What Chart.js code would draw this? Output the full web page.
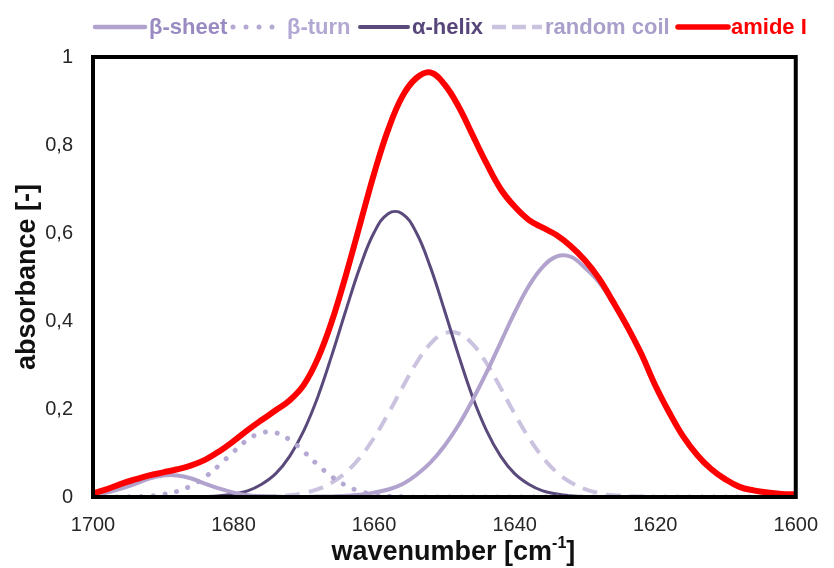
<!DOCTYPE html>
<html>
<head>
<meta charset="utf-8">
<script src="https://cdn.jsdelivr.net/npm/chart.js@4.4.1/dist/chart.umd.min.js"></script>
<style>
  html, body { margin: 0; padding: 0; background: #ffffff; }
  #wrap { width: 834px; height: 568px; }
</style>
</head>
<body>
<div id="wrap"><canvas id="c" width="834" height="568"></canvas></div>
<script>
// Wavenumber grid [cm-1]
const wavenumbers = [1700,1698,1696,1694,1692,1690,1688,1686,1684,1682,1680,1678,1676,1674,1672,1670,1668,1666,1664,1662,1660,1658,1656,1654,1652,1650,1648,1646,1644,1642,1640,1638,1636,1634,1632,1630,1628,1626,1624,1622,1620,1618,1616,1614,1612,1610,1608,1606,1604,1602,1600];

// Fitted amide I components (absorbance)
const betaSheet  = [0.004,0.010,0.019,0.030,0.042,0.049,0.049,0.042,0.030,0.019,0.010,0.004,0.002,0.001,0.000,0.000,0.001,0.001,0.003,0.005,0.010,0.017,0.029,0.050,0.078,0.116,0.163,0.220,0.283,0.351,0.419,0.479,0.523,0.547,0.546,0.521,0.488,0.440,0.386,0.325,0.254,0.191,0.137,0.095,0.063,0.040,0.023,0.014,0.009,0.006,0.005];
const betaTurn   = [0,0,0,0.001,0.002,0.006,0.013,0.026,0.046,0.073,0.103,0.130,0.146,0.146,0.130,0.103,0.073,0.046,0.026,0.013,0.006,0.002,0.001,0,0,0,0,0,0,0,0,0,0,0,0,0,0,0,0,0,0,0,0,0,0,0,0,0,0,0,0];
const alphaHelix = [0,0,0,0,0,0,0,0,0.001,0.003,0.007,0.014,0.029,0.053,0.093,0.151,0.228,0.323,0.425,0.523,0.601,0.644,0.644,0.601,0.523,0.425,0.323,0.228,0.151,0.093,0.053,0.029,0.014,0.007,0.003,0.001,0,0,0,0,0,0,0,0,0,0,0,0,0,0,0];
const randomCoil = [0,0,0,0,0,0,0,0,0,0,0,0,0.001,0.002,0.004,0.009,0.018,0.033,0.056,0.090,0.135,0.189,0.248,0.304,0.348,0.372,0.372,0.348,0.304,0.248,0.189,0.135,0.090,0.056,0.033,0.018,0.009,0.004,0.002,0.001,0,0,0,0,0,0,0,0,0,0,0];
// Measured amide I envelope
const amideI     = [0.008,0.018,0.030,0.040,0.049,0.056,0.063,0.072,0.085,0.104,0.127,0.152,0.175,0.197,0.220,0.255,0.315,0.400,0.505,0.620,0.735,0.835,0.910,0.952,0.965,0.938,0.888,0.823,0.758,0.700,0.660,0.630,0.612,0.595,0.570,0.538,0.497,0.444,0.388,0.326,0.254,0.192,0.137,0.095,0.063,0.040,0.023,0.015,0.010,0.007,0.006];

// Axis ticks
const xTicks = [1700, 1680, 1660, 1640, 1620, 1600];
const yTicks = [0, 0.2, 0.4, 0.6, 0.8, 1];

const FONT = '"Liberation Sans", Arial, sans-serif';

const toPoints = ys => wavenumbers.map((x, i) => ({ x: x, y: ys[i] }));

// Legend entries drawn across the top of the chart
const legendEntries = [
  { text: 'β-sheet',     line: '#b1a3cd', textColor: '#9a8ac2', dash: 'solid', width: 4.5, x0: 95,  x1: 145, tx: 149 },
  { text: 'β-turn',      line: '#b5a9d4', textColor: '#b3a7d3', dash: 'dot',   width: 5,   x0: 233, x1: 273, tx: 287 },
  { text: 'α-helix',     line: '#5a4a7c', textColor: '#574679', dash: 'solid', width: 4,   x0: 360, x1: 408, tx: 412 },
  { text: 'random coil', line: '#cbc2df', textColor: '#aa9fca', dash: 'dash',  width: 4.5, x0: 492, x1: 542, tx: 545 },
  { text: 'amide I',     line: '#ff0000', textColor: '#ff0000', dash: 'solid', width: 5.5, x0: 678, x1: 728, tx: 731 }
];

const legendPlugin = {
  id: 'topLegend',
  afterDraw(chart) {
    const ctx = chart.ctx;
    const y = 27;
    ctx.save();
    legendEntries.forEach(e => {
      ctx.strokeStyle = e.line;
      ctx.lineWidth = e.width;
      ctx.beginPath();
      if (e.dash === 'dot') {
        ctx.lineCap = 'round';
        ctx.setLineDash([0.01, 13]);
      } else if (e.dash === 'dash') {
        ctx.lineCap = 'butt';
        ctx.setLineDash([14, 6]);
      } else {
        ctx.lineCap = 'round';
        ctx.setLineDash([]);
      }
      ctx.moveTo(e.x0, y);
      ctx.lineTo(e.x1, y);
      ctx.stroke();
      ctx.setLineDash([]);
      ctx.fillStyle = e.textColor;
      ctx.font = 'bold 22px ' + FONT;
      ctx.textBaseline = 'middle';
      ctx.textAlign = 'left';
      ctx.fillText(e.text, e.tx, y + 1);
    });
    ctx.restore();
  }
};

// Heavy black frame around the plot area
const framePlugin = {
  id: 'plotFrame',
  afterDatasetsDraw(chart) {
    const { ctx, chartArea: a } = chart;
    ctx.save();
    ctx.strokeStyle = '#000000';
    ctx.lineWidth = 4;
    ctx.strokeRect(a.left, a.top, a.right - a.left, a.bottom - a.top);
    ctx.restore();
  }
};

// X-axis title with a raised "-1" exponent
const xTitlePlugin = {
  id: 'xTitle',
  afterDraw(chart) {
    const ctx = chart.ctx;
    const a = chart.chartArea;
    const main = 'wavenumber [cm';
    const sup = '-1';
    const close = ']';
    const y = 553;
    ctx.save();
    ctx.fillStyle = '#111111';
    ctx.textBaseline = 'middle';
    ctx.textAlign = 'left';
    ctx.font = 'bold 27px ' + FONT;
    const wMain = ctx.measureText(main).width;
    const wClose = ctx.measureText(close).width;
    ctx.font = 'bold 16px ' + FONT;
    const wSup = ctx.measureText(sup).width;
    let x = (a.left + a.right) / 2 + 9 - (wMain + wSup + wClose) / 2;
    ctx.font = 'bold 27px ' + FONT;
    ctx.fillText(main, x, y);
    x += wMain;
    ctx.font = 'bold 16px ' + FONT;
    ctx.fillText(sup, x, y - 9);
    x += wSup;
    ctx.font = 'bold 27px ' + FONT;
    ctx.fillText(close, x, y);
    ctx.restore();
  }
};

const common = { pointRadius: 0, pointHoverRadius: 0, fill: false, tension: 0.4 };

new Chart(document.getElementById('c'), {
  type: 'line',
  data: {
    datasets: [
      Object.assign({ label: 'amide I', data: toPoints(amideI), borderColor: '#ff0000', borderWidth: 6, borderCapStyle: 'round', order: 0 }, common),
      Object.assign({ label: 'β-sheet', data: toPoints(betaSheet), borderColor: '#b1a3cd', borderWidth: 4, order: 1 }, common),
      Object.assign({ label: 'β-turn', data: toPoints(betaTurn), borderColor: '#b5a9d4', borderWidth: 5, borderDash: [0.01, 12], borderCapStyle: 'round', order: 2 }, common),
      Object.assign({ label: 'α-helix', data: toPoints(alphaHelix), borderColor: '#5a4a7c', borderWidth: 3, order: 3 }, common),
      Object.assign({ label: 'random coil', data: toPoints(randomCoil), borderColor: '#cbc2df', borderWidth: 4, borderDash: [15, 9], order: 4 }, common)
    ]
  },
  options: {
    responsive: false,
    animation: false,
    devicePixelRatio: 1,
    events: [],
    layout: { padding: { top: 57, right: 26, left: 0, bottom: 0 } },
    plugins: { legend: { display: false }, tooltip: { enabled: false } },
    scales: {
      x: {
        type: 'linear',
        reverse: true,
        min: 1600,
        max: 1700,
        afterBuildTicks: s => { s.ticks = xTicks.map(v => ({ value: v })); },
        afterFit: s => { s.height = 71; },
        grid: { display: false, drawTicks: false },
        border: { display: false },
        ticks: { padding: 16, color: '#262626', font: { family: FONT, size: 20 }, maxRotation: 0, callback: v => String(v) },
        title: { display: false }
      },
      y: {
        min: 0,
        max: 1,
        afterBuildTicks: s => { s.ticks = yTicks.map(v => ({ value: v })); },
        afterFit: s => { s.width = 93; },
        grid: { display: false, drawTicks: false },
        border: { display: false },
        ticks: { padding: 20, color: '#262626', font: { family: FONT, size: 20 }, callback: v => String(v).replace('.', ',') },
        title: { display: true, text: 'absorbance [-]', color: '#111111', font: { family: FONT, size: 27, weight: 'bold' }, padding: { top: 11, bottom: 0 } }
      }
    }
  },
  plugins: [framePlugin, legendPlugin, xTitlePlugin]
});
</script>
</body>
</html>
